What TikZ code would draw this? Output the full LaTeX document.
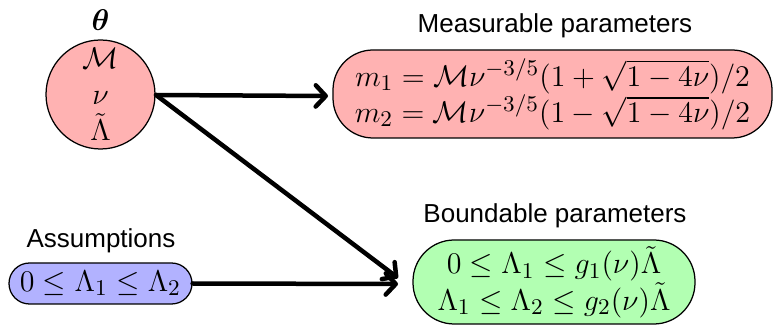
\documentclass[tikz,border=0pt]{standalone}
\usepackage{amsmath}
\usepackage{bm}
\usepackage{fontspec}
\newfontfamily\labelfont{Liberation Sans}
\usetikzlibrary{arrows.meta}
\definecolor{boxred}{RGB}{255,178,178}
\definecolor{boxgreen}{RGB}{178,255,178}
\definecolor{boxblue}{RGB}{178,178,255}
\tikzset{
  mathtext/.style={font=\fontsize{13}{14.5}\selectfont, align=center, inner sep=0pt},
  labeltext/.style={font=\labelfont\fontsize{10.4}{12}\selectfont, inner sep=0pt},
  pbox/.style={draw=black, line width=0.5pt, align=center, inner sep=0pt,
    font=\fontsize{13}{14.5}\selectfont},
  conn/.style={line width=1.8pt, line cap=round,
    -{Straight Barb[length=4pt,width=8.5pt,round]}},
}
\begin{document}
\begin{tikzpicture}[x=0.4pt,y=-0.4pt]
\useasboundingbox (0,0) rectangle (773,325);
% parameter circle
\node[pbox, circle, fill=boxred, minimum size=43.6pt] (theta) at (100.5,94.5)
  {$\mathcal{M}$\\ $\nu$\\ $\tilde{\Lambda}$};
\node[mathtext] (thetalab) at (100.5,20) {$\bm{\theta}$};
% measurable
\node[pbox, rectangle, rounded corners=16pt, fill=boxred,
  minimum width=175.6pt, minimum height=35.2pt] (meas) at (552.5,94)
  {$m_1 = \mathcal{M}\nu^{-3/5}(1+\sqrt{1-4\nu})/2$\\
   $m_2 = \mathcal{M}\nu^{-3/5}(1-\sqrt{1-4\nu})/2$};
\node[labeltext] (measlab) at (555,26) {Measurable parameters};
% boundable
\node[pbox, rectangle, rounded corners=16.5pt, fill=boxgreen,
  minimum width=112.8pt, minimum height=33.6pt] (bound) at (554,282)
  {$0 \le \Lambda_1 \le g_1(\nu)\tilde{\Lambda}$\\
   $\Lambda_1 \le \Lambda_2 \le g_2(\nu)\tilde{\Lambda}$};
\node[labeltext] (boundlab) at (555,216) {Boundable parameters};
% assumptions
\node[pbox, rectangle, rounded corners=8.2pt, fill=boxblue,
  minimum width=73.2pt, minimum height=16.4pt] (assum) at (100.5,283.5)
  {$0 \le \Lambda_1 \le \Lambda_2$};
\node[labeltext] (assumlab) at (101,241) {Assumptions};
% connectors
\coordinate (src) at (156,95);
\coordinate (measin) at (328,96);
\coordinate (boundin1) at (398,278);
\coordinate (boundin2) at (398,284);
\draw[conn] (src) -- (measin);
\draw[conn] (src) -- (boundin1);
\draw[conn] (assum.east) -- (boundin2);
\end{tikzpicture}
\end{document}
